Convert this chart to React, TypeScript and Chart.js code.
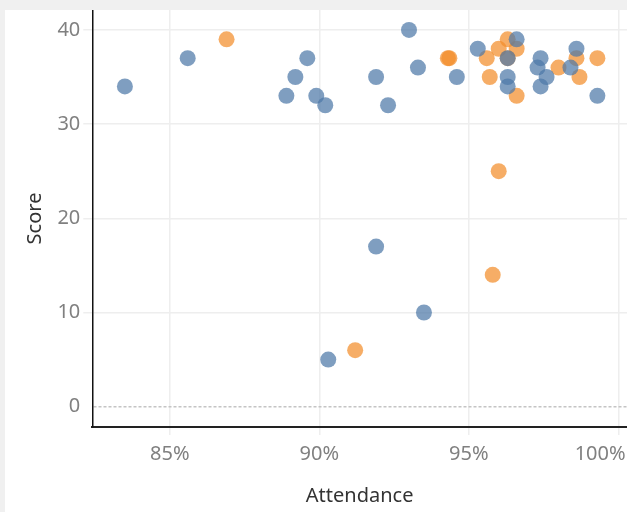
import React, { useEffect, useRef } from "react";
import { Chart, registerables } from "chart.js";

Chart.register(...registerables);

const blueAttendance = [83.5, 85.6, 88.9, 89.2, 89.6, 89.9, 90.2, 91.9, 92.3, 93.0, 93.3, 94.6, 91.9, 93.5, 90.3, 95.3, 96.6, 96.3, 96.3, 96.3, 97.4, 97.3, 97.4, 97.6, 98.4, 98.6, 99.3];
const blueScore = [34, 37, 33, 35, 37, 33, 32, 35, 32, 40, 36, 35, 17, 10, 5, 38, 39, 37, 35, 34, 37, 36, 34, 35, 36, 38, 33];

const orangeAttendance = [86.9, 94.3, 94.35, 91.2, 95.8, 96.0, 95.6, 96.0, 96.3, 96.6, 96.3, 95.7, 96.6, 98.0, 98.6, 98.7, 99.3];
const orangeScore = [39, 37, 37, 6, 14, 25, 37, 38, 39, 38, 37, 35, 33, 36, 37, 35, 37];

const xTicks = [85, 90, 95, 100];
const yTicks = [0, 10, 20, 30, 40];

const FONT = "'Noto Sans', 'DejaVu Sans', sans-serif";

export default function App() {
  const ref = useRef<HTMLCanvasElement | null>(null);

  useEffect(() => {
    if (!ref.current) return;
    const toPoints = (xs: number[], ys: number[]) => xs.map((x, i) => ({ x, y: ys[i] }));
    const chart = new Chart(ref.current, {
      type: "scatter",
      data: {
        datasets: [
          {
            label: "Blue",
            data: toPoints(blueAttendance, blueScore),
            backgroundColor: "rgba(78,121,167,0.72)",
            borderWidth: 0,
            pointRadius: 8,
          },
          {
            label: "Orange",
            data: toPoints(orangeAttendance, orangeScore),
            backgroundColor: "rgba(242,142,43,0.72)",
            borderWidth: 0,
            pointRadius: 8,
          },
        ],
      },
      options: {
        responsive: false,
        animation: false,
        layout: { padding: 0, autoPadding: false },
        plugins: { legend: { display: false }, tooltip: { enabled: false } },
        scales: {
          x: {
            type: "linear",
            min: 82.41,
            max: 100.29,
            afterBuildTicks: (s: any) => {
              s.ticks = xTicks.map((v) => ({ value: v }));
            },
            afterFit: (s: any) => {
              s.height = 85;
              s.paddingLeft = 0;
              s.paddingRight = 0;
            },
            ticks: {
              // the last label is nudged left (as in the reference) by trailing spaces
              callback: (v: any) => (v === 100 ? v + "%\u00a0\u00a0\u00a0\u00a0\u00a0\u00a0\u00a0" : v + "%"),
              color: "#808080",
              font: { family: FONT, size: 20 },
              padding: 7,
              maxRotation: 0,
              autoSkip: false,
            },
            grid: {
              color: "#eeeeee",
              lineWidth: 1.5,
              tickLength: 8,
              tickColor: "#eeeeee",
            },
            border: { color: "#222", width: 2 },
            title: {
              display: true,
              text: "Attendance",
              color: "#333",
              font: { family: FONT, size: 20 },
              padding: { top: 0, bottom: 4 },
            },
          },
          y: {
            type: "linear",
            min: -2.155,
            max: 42.11,
            afterBuildTicks: (s: any) => {
              s.ticks = yTicks.map((v) => ({ value: v }));
            },
            afterFit: (s: any) => {
              s.width = 87.3;
              s.paddingTop = 0;
              s.paddingBottom = 0;
            },
            ticks: {
              color: "#808080",
              font: { family: FONT, size: 20 },
              padding: 3,
            },
            grid: {
              color: (c: any) => (c.tick && c.tick.value === 0 ? "#c4c4c4" : "#eeeeee"),
              lineWidth: 1.5,
              tickLength: 9,
              tickColor: (c: any) => (c.tick && c.tick.value === 0 ? "rgba(0,0,0,0)" : "#eeeeee"),
            },
            border: {
              color: "#111",
              width: 1.5,
              dash: (c: any) => (c.tick && c.tick.value === 0 ? [3, 2] : []),
            } as any,
            title: {
              display: true,
              text: "Score",
              color: "#333",
              font: { family: FONT, size: 20 },
              padding: { top: 18, bottom: 0 },
            },
          },
        },
      },
    } as any);
    return () => chart.destroy();
  }, []);

  return (
    <div style={{ position: "fixed", left: 0, top: 0, width: 627, height: 512, background: "#f0f0f0", overflow: "hidden" }}>
      <div style={{ position: "absolute", left: 5, top: 10, width: 622, height: 502, background: "#ffffff" }}>
        <canvas ref={ref} width={622} height={502} style={{ display: "block", width: 622, height: 502 }} />
      </div>
    </div>
  );
}
